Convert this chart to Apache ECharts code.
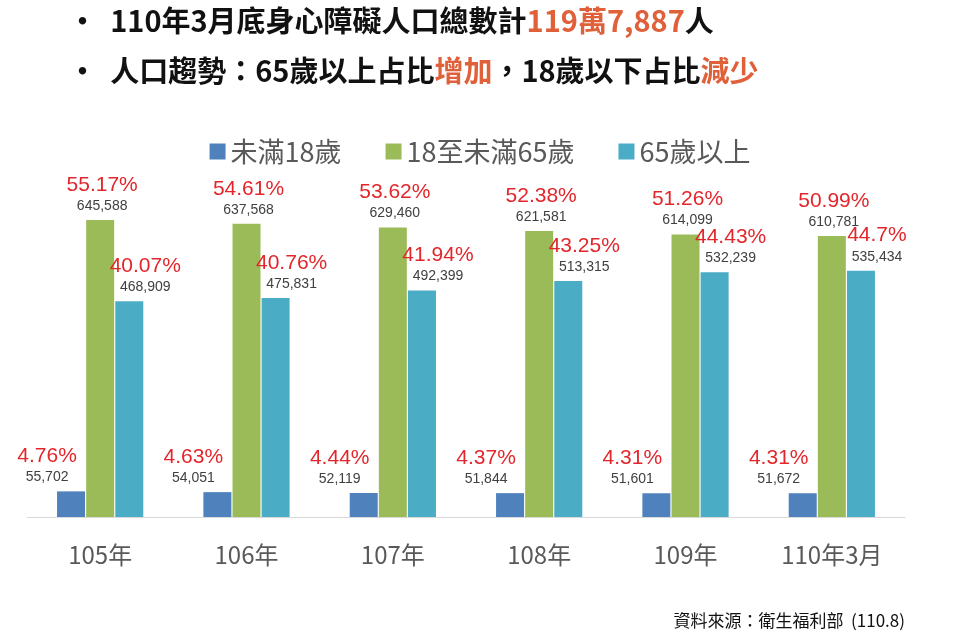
<!DOCTYPE html>
<html><head><meta charset="utf-8">
<script src="https://cdn.jsdelivr.net/npm/echarts@6/dist/echarts.min.js"></script>
<style>html,body{margin:0;padding:0;background:#fff}#c{width:960px;height:642px}</style>
</head><body><div id="c"></div>
<script>
const categories = ['105年','106年','107年','108年','109年','110年3月'];
const under18 = [55702,54051,52119,51844,51601,51672];
const mid = [645588,637568,629460,621581,614099,610781];
const over65 = [468909,475831,492399,513315,532239,535434];
const pUnder18 = ['4.76%','4.63%','4.44%','4.37%','4.31%','4.31%'];
const pMid = ['55.17%','54.61%','53.62%','52.38%','51.26%','50.99%'];
const pOver65 = ['40.07%','40.76%','41.94%','43.25%','44.43%','44.7%'];
const FF = '"Noto Sans CJK TC","Microsoft JhengHei",sans-serif';
const fmt = v => v.toLocaleString('en-US');
function mk(name, data, pct, color, off){
  return {name, type:'bar', data, barWidth:28, itemStyle:{color},
    label:{show:true, position:'top', offset:off, lineHeight:18,
      formatter:p=>'{p|'+pct[p.dataIndex]+'}\n{v|'+fmt(p.value)+'}',
      rich:{p:{color:'#E3262B',fontSize:21,fontFamily:'Arial',lineHeight:24},
            v:{color:'#404040',fontSize:14,fontFamily:'Arial',lineHeight:18}}}};
}
const chart = echarts.init(document.getElementById('c'));
chart.setOption({
  animation:false,
  textStyle:{fontFamily:FF},
  graphic:[
    {type:'text',left:68,top:6,style:{text:'•  110年3月底身心障礙人口總數計{r|119萬7,887}人',fontSize:29,fontWeight:'bold',fill:'#111',fontFamily:FF,
      rich:{r:{fill:'#E0603A',fontSize:29,fontWeight:'bold',fontFamily:FF}}}},
    {type:'text',left:68,top:56,style:{text:'•  人口趨勢：65歲以上占比{r|增加}，18歲以下占比{r|減少}',fontSize:29,fontWeight:'bold',fill:'#111',fontFamily:FF,
      rich:{r:{fill:'#E0603A',fontSize:29,fontWeight:'bold',fontFamily:FF}}}},
    {type:'text',right:55,top:612,style:{text:'資料來源：衛生福利部  (110.8)',fontSize:17,fill:'#111',fontFamily:FF}}
  ],
  legend:{top:133,left:'center',icon:'rect',itemWidth:16,itemHeight:16,itemGap:44,
    textStyle:{fontSize:27,color:'#595959',fontFamily:FF},
    data:['未滿18歲','18至未滿65歲','65歲以上']},
  grid:{left:27,right:55,top:195,bottom:125},
  xAxis:{type:'category',data:categories,axisTick:{show:false},
    axisLine:{lineStyle:{color:'#D9D9D9'}},
    axisLabel:{fontSize:24,color:'#595959',margin:26,fontFamily:FF}},
  yAxis:{type:'value',min:0,max:700000,show:false,splitLine:{show:false}},
  series:[
    mk('未滿18歲',under18,pUnder18,'#4F81BD',[-24,0]),
    {...mk('18至未滿65歲',mid,pMid,'#9BBB59',[2,0]),barGap:'4%'},
    mk('65歲以上',over65,pOver65,'#4BACC6',[16,0])
  ]
});
</script></body></html>
